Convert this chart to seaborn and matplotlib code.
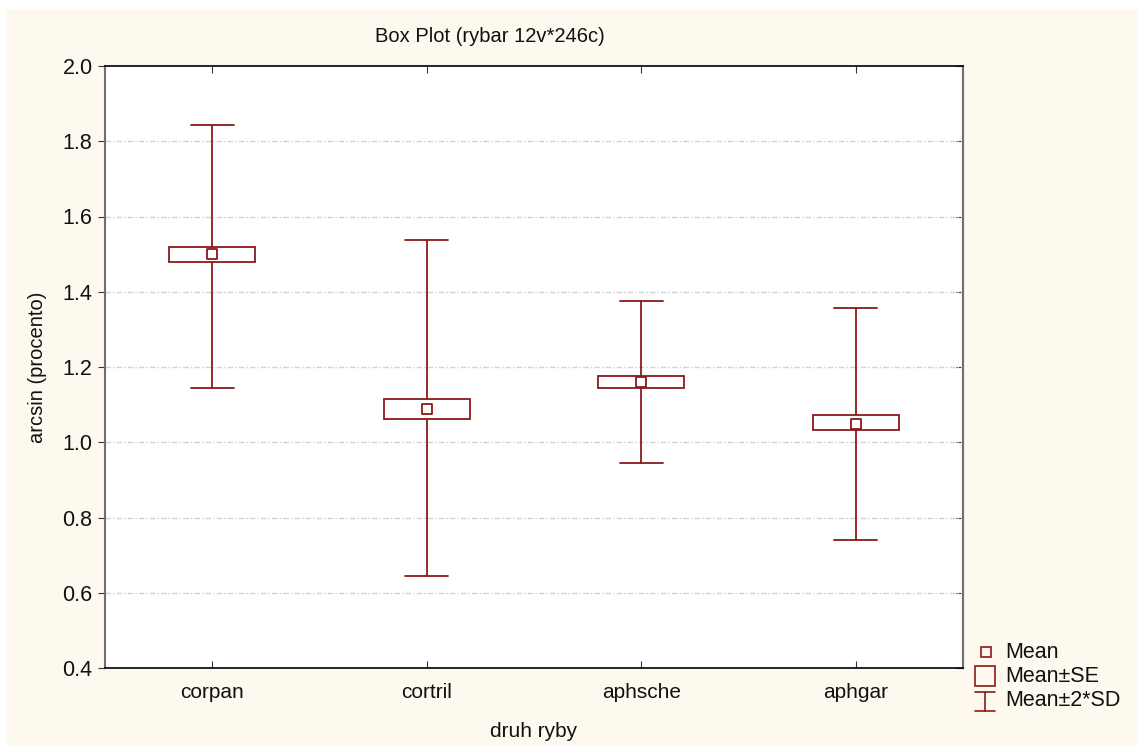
import seaborn as sns
import matplotlib
matplotlib.use('Agg')
from matplotlib import pyplot as plt
from matplotlib.patches import Rectangle
from matplotlib.lines import Line2D

# summary stats
species = ['corpan', 'cortril', 'aphsche', 'aphgar']
means = [1.500, 1.088, 1.160, 1.048]
se_low = [1.480, 1.062, 1.145, 1.033]
se_high = [1.520, 1.115, 1.177, 1.073]
sd2_low = [1.145, 0.644, 0.945, 0.740]
sd2_high = [1.843, 1.537, 1.375, 1.357]
legend_labels = ['Mean', 'Mean\u00b1SE', 'Mean\u00b12*SD']

red = '#8B1A1A'
cream = '#FDF9EF'
W, H = 1138, 746

sns.set_style('ticks')
plt.rcParams['font.family'] = ['Liberation Sans', 'DejaVu Sans']

fig = plt.figure(figsize=(W / 100, H / 100), dpi=100)
fig.patch.set_facecolor('white')


def px(x, y):
    # pixel position (from top-left) -> figure fraction
    return x / W, 1 - y / H


fig.patches.append(Rectangle((7 / W, 0), 1, 737 / H, transform=fig.transFigure,
                             facecolor=cream, edgecolor='none', zorder=-10))
ax = fig.add_axes([105 / W, 78 / H, 858 / W, 602 / H])
ax.set_facecolor('white')

x = list(range(len(species)))
box_w = 0.4
cap_w = 0.1
for i in x:
    ax.plot([i, i], [sd2_low[i], sd2_high[i]], color=red, lw=1.3, zorder=2)
    ax.plot([i - cap_w, i + cap_w], [sd2_low[i]] * 2, color=red, lw=1.3, zorder=2)
    ax.plot([i - cap_w, i + cap_w], [sd2_high[i]] * 2, color=red, lw=1.3, zorder=2)
    ax.add_patch(Rectangle((i - box_w / 2, se_low[i]), box_w, se_high[i] - se_low[i],
                           facecolor='white', edgecolor=red, lw=1.3, zorder=3))

sns.scatterplot(x=x, y=means, marker='s', s=60, facecolor='white', edgecolor=red,
                linewidth=1.3, zorder=4, ax=ax, legend=False)

ax.set_xlim(-0.5, 3.5)
ax.set_ylim(0.4, 2.0)
ax.set_xticks(x)
ax.set_xticklabels(species)
yt = [0.4, 0.6, 0.8, 1.0, 1.2, 1.4, 1.6, 1.8, 2.0]
ax.set_yticks(yt)
ax.set_yticklabels(['%.1f' % v for v in yt])
for v in yt[1:-1]:
    ax.axhline(v, color='#D2D2D2', lw=1, ls=(0, (4, 1.5, 1, 1.5)), zorder=1)

ax.tick_params(axis='x', direction='in', top=True, length=5, labelsize=15, pad=11,
               color='#333333', labelcolor='#111111')
ax.tick_params(axis='y', direction='out', length=5, labelsize=15.5, pad=4,
               color='#333333', labelcolor='#111111')
right = ax.secondary_yaxis('right')
right.set_yticks(yt)
right.tick_params(direction='in', length=5, labelright=False, color='#333333')
right.spines['right'].set_color('#707070')
right.spines['right'].set_linewidth(1.5)
for side in ['top', 'bottom']:
    ax.spines[side].set_color('black')
    ax.spines[side].set_linewidth(1.2)
for side in ['left', 'right']:
    ax.spines[side].set_color('#707070')
    ax.spines[side].set_linewidth(1.5)

ax.set_xlabel('druh ryby', fontsize=15, labelpad=14, color='#111111')
ax.set_ylabel('arcsin (procento)', fontsize=14.5, labelpad=11, color='#111111')
fig.text(*px(490, 37), 'Box Plot (rybar 12v*246c)', fontsize=14.5,
         ha='center', va='center', color='#111111')

# legend drawn by hand in the right margin
tf = fig.transFigure
lx0, ly0 = px(981, 657)
lx1, ly1 = px(991, 647)
fig.patches.append(Rectangle((lx0, ly0), lx1 - lx0, ly1 - ly0, transform=tf,
                             facecolor='none', edgecolor=red, lw=1.2))
bx0, by0 = px(975, 686)
bx1, by1 = px(995, 666)
fig.patches.append(Rectangle((bx0, by0), bx1 - bx0, by1 - by0, transform=tf,
                             facecolor='none', edgecolor=red, lw=1.2))
for yy in [692, 711]:
    a, b = px(975, yy)
    c, d = px(995, yy)
    fig.lines.append(Line2D([a, c], [b, d], transform=tf, color=red, lw=1.2))
a, b = px(985, 692)
c, d = px(985, 711)
fig.lines.append(Line2D([a, c], [b, d], transform=tf, color=red, lw=1.2))
for lab, yy in zip(legend_labels, [652, 677, 701]):
    fig.text(*px(1005, yy), lab, fontsize=15.5, ha='left', va='center', color='#111111')

fig.savefig('out.png', dpi=100, facecolor=fig.get_facecolor())
